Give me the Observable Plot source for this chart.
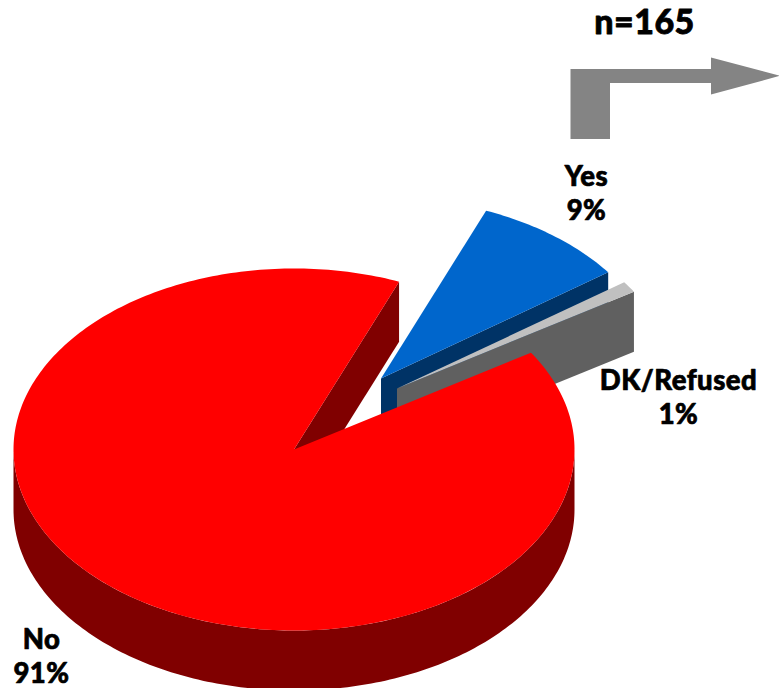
<!DOCTYPE html>
<html>
<head>
<meta charset="utf-8">
<style>html,body{margin:0;padding:0;background:#fff}svg{display:block}svg text{letter-spacing:.5px}</style>
<script src="https://cdn.jsdelivr.net/npm/d3@7"></script>
<script src="https://cdn.jsdelivr.net/npm/@observablehq/plot@0.6"></script>
</head>
<body>
<div id="chart"></div>
<script>
const categories = ["Yes", "DK/Refused", "No"];
const percents = [9, 1, 91];
const sampleLabel = "n=165";
const topColors = ["#0066cc", "#c0c0c0", "#ff0000"];
const sideColors = ["#003366", "#606060", "#800000"];
const explodeX = [87, 103, 0];
const explodeY = [-71, -61, 0];
const labelX = [586, 678, 41];
const labelY = [177, 381, 640];
const arrowX = [570, 570, 710.5, 710.5, 779.5, 710.5, 710.5, 609.5, 609.5];
const arrowY = [138.5, 68.5, 68.5, 57, 75.3, 94, 82.5, 82.5, 138.5];

const cx = 293.5, cy = 449, rx = 280.5, ry = 181, depth = 60;
const startDeg = 68; // top-face angle where "Yes" begins, going clockwise
const total = d3.sum(percents);

let a = startDeg;
const slices = categories.map((name, i) => {
  const sweep = percents[i] / total * 360;
  const s = {name, i, from: a, to: a - sweep, ox: cx + explodeX[i], oy: cy + explodeY[i]};
  a -= sweep;
  return s;
});
const rim = (s, deg, dy = 0) => {
  const t = deg * Math.PI / 180;
  return {x: s.ox + rx * Math.cos(t), y: s.oy - ry * Math.sin(t) + dy};
};
const arc = (s, from, to, dy = 0) => {
  const n = Math.max(2, Math.ceil(Math.abs(to - from)));
  return d3.range(n + 1).map(k => rim(s, from + (to - from) * k / n, dy));
};
const topFace = s => [{x: s.ox, y: s.oy}, ...arc(s, s.from, s.to)];
// wall along a slice's cut, from the apex to the rim
const wall = (s, deg) => {
  const r = rim(s, deg);
  return [{x: s.ox, y: s.oy}, r, {x: r.x, y: r.y + depth}, {x: s.ox, y: s.oy + depth}];
};
const [yes, dk, no] = slices;
const poly = (pts, fill) => Plot.line(pts, {x: "x", y: "y", fill, stroke: null, curve: "linear"});
// No's outer front wall: the lower half of the rim
const noFront = [...arc(no, 180, 360), ...arc(no, 360, 180, depth)];

const labelRows = categories.flatMap((c, i) => [
  {text: c, x: labelX[i], y: labelY[i]},
  {text: percents[i] + "%", x: labelX[i], y: labelY[i] + 34}
]);

const plot = Plot.plot({
  width: 779, height: 688,
  margin: 0,
  x: {domain: [0, 779], range: [0, 779], axis: null},
  y: {domain: [0, 688], range: [0, 688], axis: null},
  marks: [
    poly(arrowX.map((x, i) => ({x, y: arrowY[i]})), "#848484"),
    poly(wall(no, no.to), sideColors[2]),
    poly(wall(yes, yes.to), sideColors[0]),
    poly(topFace(yes), topColors[0]),
    poly(wall(dk, dk.to), sideColors[1]),
    poly(topFace(dk), topColors[1]),
    poly(noFront, sideColors[2]),
    poly(topFace(no), topColors[2]),
    Plot.text(labelRows, {
      x: "x", y: "y", text: "text", fontSize: 27.5, fontWeight: 900,
      fontFamily: "Lato", fill: "#000", stroke: "#000", strokeWidth: 0.7,
      lineAnchor: "middle"
    }),
    Plot.text([sampleLabel], {
      x: [644], y: [23], fontSize: 34, fontWeight: 900,
      fontFamily: "Lato", fill: "#000", stroke: "#000", strokeWidth: 0.8,
      lineAnchor: "middle"
    })
  ]
});
document.getElementById("chart").append(plot);
</script>
</body>
</html>
